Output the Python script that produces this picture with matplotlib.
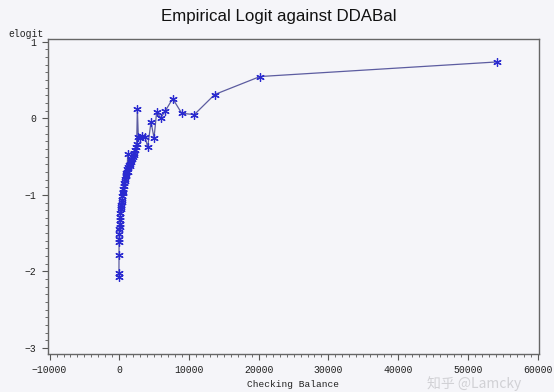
import matplotlib
matplotlib.use("Agg")
import matplotlib.pyplot as plt
from matplotlib.ticker import MultipleLocator

# Checking balance (x) and empirical logit (y)
balance = [-60, -50, -40, -30, -20, 0, 20, 50, 80, 100, 130, 170, 200, 240,
           280, 330, 380, 430, 480, 540, 600, 660, 720, 780, 840, 900, 960,
           1020, 1080, 1140, 1200, 1260, 1320, 1400, 1480, 1560, 1650, 1750,
           1850, 1950, 2050, 2150, 2250, 2350, 2490, 2590, 2730, 3000, 3300,
           3690, 4070, 4550, 4980, 5360, 5940, 6560, 7660, 8950, 10760,
           13680, 20190, 54230]
elogit = [-2.07, -2.02, -1.79, -1.62, -1.58, -1.51, -1.45, -1.42, -1.38,
          -1.33, -1.29, -1.24, -1.18, -1.16, -1.13, -1.09, -1.07, -1.02,
          -0.98, -0.96, -0.92, -0.88, -0.85, -0.82, -0.79, -0.76, -0.74,
          -0.71, -0.70, -0.66, -0.47, -0.63, -0.70, -0.61, -0.62, -0.60,
          -0.57, -0.55, -0.53, -0.50, -0.48, -0.46, -0.42, -0.38, -0.34,
          0.127, -0.245, -0.26, -0.23, -0.245, -0.375, -0.048, -0.257,
          0.083, 0.004, 0.09, 0.257, 0.065, 0.048, 0.31, 0.545, 0.736]

x_ticks = [-10000, 0, 10000, 20000, 30000, 40000, 50000, 60000]
x_labels = ["\u221210000", "0", "10000", "20000", "30000", "40000",
            "50000", "60000"]
y_ticks = [-3, -2, -1, 0, 1]
y_labels = ["\u22123", "\u22122", "\u22121", "0", "1"]

bg = "#f5f5f9"
mono = "Liberation Mono"
fig = plt.figure(figsize=(5.54, 3.92), dpi=100, facecolor=bg)
ax = fig.add_axes([0.0861, 0.097, 0.8869, 0.8035], facecolor=bg)

ax.plot(balance, elogit, color="#5c5ca0", linewidth=0.9, zorder=2)
ax.plot(balance, elogit, linestyle="none", marker=(6, 2, 0), markersize=6,
        markeredgecolor="#2a2ad0", markeredgewidth=0.9, zorder=3)

ax.set_xlim(-10270, 60210)
ax.set_ylim(-3.078, 1.035)
ax.set_xticks(x_ticks)
ax.set_xticklabels(x_labels)
ax.set_yticks(y_ticks)
ax.set_yticklabels(y_labels)
ax.xaxis.set_minor_locator(MultipleLocator(1000))
ax.yaxis.set_minor_locator(MultipleLocator(0.1))

for lab in ax.get_xticklabels() + ax.get_yticklabels():
    lab.set_family(mono)
    lab.set_fontsize(7)
    lab.set_color("#222222")

ax.tick_params(which="major", direction="out", length=4, width=0.8,
               color="#555555", pad=4)
ax.tick_params(which="minor", direction="out", length=2, width=0.6,
               color="#555555")
for s in ax.spines.values():
    s.set_color("#666666")
    s.set_linewidth(1.0)

fig.text(0.504, 0.957, "Empirical Logit against DDABal", ha="center",
         va="center", fontsize=12.2, family="Liberation Sans", color="#111111")
fig.text(0.015, 0.913, "elogit", ha="left", va="center", fontsize=7,
         family=mono, color="#222222")
fig.text(0.529, 0.02, "Checking Balance", ha="center", va="center",
         fontsize=6.8, family=mono, color="#222222")
fig.text(0.77, 0.022, "知乎 @Lamcky", ha="left", va="center", fontsize=10,
         family=["Noto Sans CJK SC", "DejaVu Sans"], color="#c8c8cc",
         alpha=0.8)

fig.savefig("out.png", dpi=100, facecolor=bg)
